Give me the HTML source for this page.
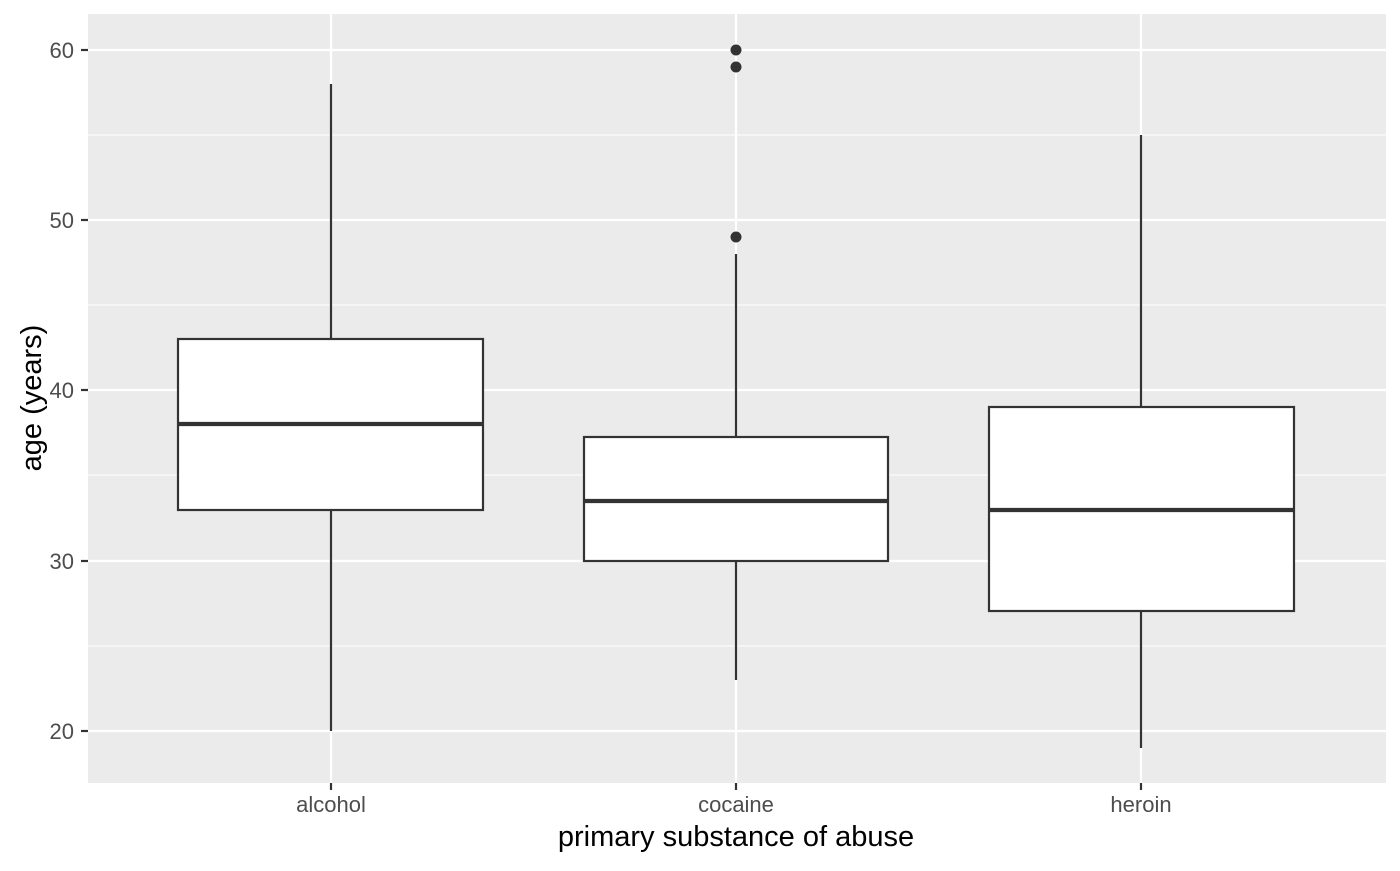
<!DOCTYPE html>
<html><head><style>body{margin:0;background:#fff}</style></head><body>
<svg width="1400" height="866" xmlns="http://www.w3.org/2000/svg" font-family="Liberation Sans, sans-serif">
<rect x="0" y="0" width="1400" height="866" fill="#fff"/>
<rect x="88" y="14" width="1298" height="769" fill="#ebebeb"/>
<g stroke="#fff" stroke-width="1.1">
<line x1="88" x2="1386" y1="135" y2="135"/><line x1="88" x2="1386" y1="305" y2="305"/>
<line x1="88" x2="1386" y1="475" y2="475"/><line x1="88" x2="1386" y1="646" y2="646"/>
</g>
<g stroke="#fff" stroke-width="2.2">
<line x1="88" x2="1386" y1="50" y2="50"/><line x1="88" x2="1386" y1="220" y2="220"/>
<line x1="88" x2="1386" y1="390" y2="390"/><line x1="88" x2="1386" y1="561" y2="561"/>
<line x1="88" x2="1386" y1="731" y2="731"/>
<line x1="331" x2="331" y1="14" y2="783"/><line x1="736" x2="736" y1="14" y2="783"/><line x1="1141" x2="1141" y1="14" y2="783"/>
</g>
<g stroke="#333" stroke-width="2.2" fill="#fff">
<line x1="331" x2="331" y1="731" y2="84"/>
<rect x="178" y="339" width="305" height="171"/>
<line x1="178" x2="483" y1="424" y2="424" stroke-width="4.3"/>
<line x1="736" x2="736" y1="680" y2="254"/>
<rect x="584" y="437" width="304" height="124"/>
<line x1="584" x2="888" y1="501" y2="501" stroke-width="4.3"/>
<line x1="1141" x2="1141" y1="748" y2="135"/>
<rect x="989" y="407" width="305" height="204"/>
<line x1="989" x2="1294" y1="510" y2="510" stroke-width="4.3"/>
</g>
<g fill="#333"><circle cx="736" cy="237" r="5.5"/><circle cx="736" cy="67" r="5.5"/><circle cx="736" cy="50" r="5.5"/></g>
<g stroke="#333" stroke-width="2.2">
<line x1="81" x2="88" y1="50" y2="50"/><line x1="81" x2="88" y1="220" y2="220"/><line x1="81" x2="88" y1="390" y2="390"/><line x1="81" x2="88" y1="561" y2="561"/><line x1="81" x2="88" y1="731" y2="731"/>
<line x1="331" x2="331" y1="783" y2="790"/><line x1="736" x2="736" y1="783" y2="790"/><line x1="1141" x2="1141" y1="783" y2="790"/>
</g>
<g fill="#4d4d4d" font-size="22" text-anchor="end">
<text x="74" y="58">60</text><text x="74" y="228">50</text><text x="74" y="398">40</text><text x="74" y="569">30</text><text x="74" y="739">20</text>
</g>
<g fill="#4d4d4d" font-size="22" text-anchor="middle">
<text x="331" y="812">alcohol</text><text x="736" y="812">cocaine</text><text x="1141" y="812">heroin</text>
</g>
<text x="736" y="846" font-size="29" text-anchor="middle" fill="#000">primary substance of abuse</text>
<text transform="translate(41,398) rotate(-90)" font-size="29" text-anchor="middle" fill="#000">age (years)</text>
</svg>
</body></html>
